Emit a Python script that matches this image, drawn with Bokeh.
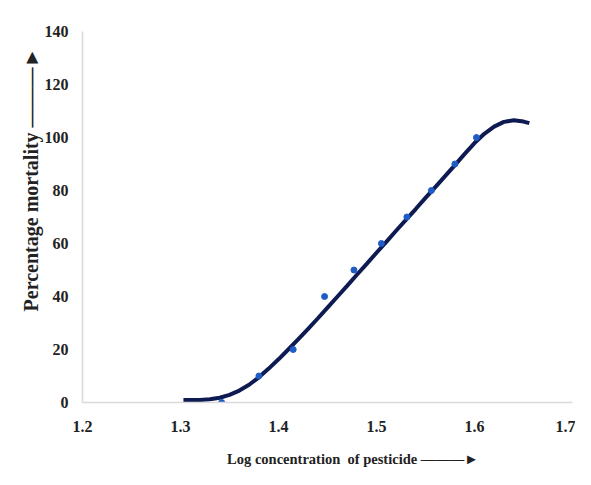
from bokeh.plotting import figure
from bokeh.models import Range1d, FixedTicker
from bokeh.embed import file_html
from bokeh.resources import INLINE

# observed data: log concentration vs percentage mortality
log_conc = [1.342, 1.380, 1.415, 1.447, 1.477, 1.505, 1.531, 1.556, 1.580, 1.602]
mortality = [0, 10, 20, 40, 50, 60, 70, 80, 90, 100]

# trendline
trend_x = [1.303, 1.32, 1.33, 1.34, 1.35, 1.36, 1.37, 1.38, 1.39, 1.40, 1.41, 1.42,
           1.43, 1.44, 1.45, 1.46, 1.47, 1.48, 1.49, 1.50, 1.51, 1.52, 1.53, 1.54,
           1.55, 1.56, 1.57, 1.58, 1.59, 1.60, 1.61, 1.62, 1.63, 1.64, 1.65, 1.656]
trend_y = [0.9, 0.9, 1.2, 1.8, 2.9, 4.5, 6.7, 9.5, 12.8, 16.3, 20.0, 23.8,
           27.7, 31.7, 35.8, 39.9, 44.0, 48.2, 52.3, 56.5, 60.6, 64.8, 68.9, 73.0,
           77.2, 81.3, 85.4, 89.6, 93.8, 97.9, 101.4, 104.1, 105.9, 106.5, 106.0, 105.4]

x_ticks = [1.2, 1.3, 1.4, 1.5, 1.6, 1.7]
y_ticks = [0, 20, 40, 60, 80, 100, 120, 140]

x_title = "Log concentration\u00a0\u00a0of pesticide"
y_title = "Percentage mortality"

FONT = "Liberation Serif"
NB = "\u00a0"
ARROW = "\u2014\u2014\u2014\u25ba"

p = figure(width=575, height=469, output_backend="svg", toolbar_location=None,
           x_range=Range1d(1.2, 1.7), y_range=Range1d(0, 140),
           min_border_left=82, min_border_right=3, min_border_top=31, min_border_bottom=64)
p.outline_line_color = None
p.xgrid.visible = False
p.ygrid.visible = False
p.background_fill_color = "white"
p.border_fill_color = "white"

for ax in (p.xaxis[0], p.yaxis[0]):
    ax.axis_line_color = "#d9d9d9"
    ax.axis_line_width = 1.5
    ax.major_tick_line_color = None
    ax.minor_tick_line_color = None
    ax.major_label_text_font = FONT
    ax.major_label_text_font_style = "bold"
    ax.major_label_text_font_size = "16px"
    ax.major_label_text_color = "#222222"
    ax.axis_label_text_font = FONT
    ax.axis_label_text_font_style = "bold"
    ax.axis_label_text_color = "#222222"

p.xaxis.ticker = FixedTicker(ticks=x_ticks)
p.yaxis.ticker = FixedTicker(ticks=y_ticks)
p.xaxis.major_label_standoff = 12
p.yaxis.major_label_standoff = 8

p.xaxis.axis_label = NB * 14 + x_title + " " + ARROW
p.xaxis.axis_label_text_font_size = "14.5px"
p.xaxis.axis_label_standoff = 16

p.yaxis.axis_label = NB * 15 + y_title + " " + ARROW
p.yaxis.axis_label_text_font_size = "20px"
p.yaxis.axis_label_standoff = 0

p.line(trend_x, trend_y, line_color="#0e1a52", line_width=4)
p.scatter(log_conc, mortality, size=6, color="#1f5cc4")

open("out.html", "w").write(file_html(p, INLINE))
